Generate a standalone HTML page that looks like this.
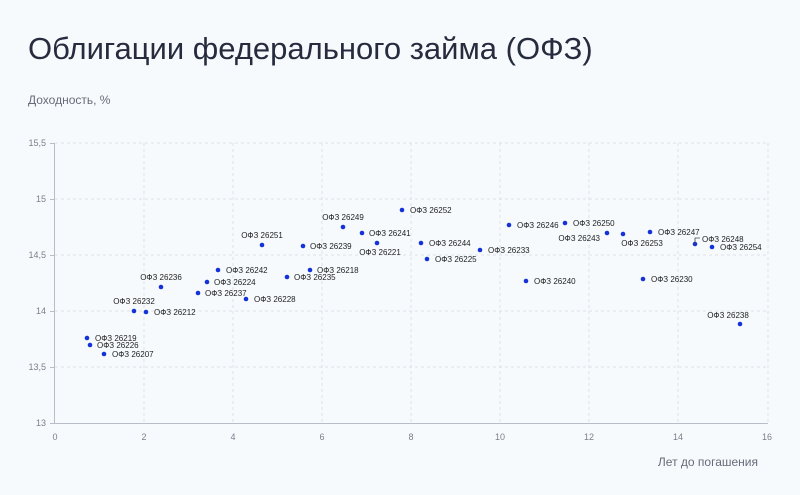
<!DOCTYPE html>
<html><head><meta charset="utf-8"><style>
body{margin:0;background:#f7fafd;}
svg{display:block}
text{font-family:"Liberation Sans","DejaVu Sans",sans-serif}
</style></head><body>
<svg width="800" height="495" viewBox="0 0 800 495" xmlns="http://www.w3.org/2000/svg">
<rect width="800" height="495" fill="#f7fafd"/>
<text x="28" y="59" font-size="31" fill="#262b3e">Облигации федерального займа (ОФЗ)</text>
<text x="28" y="104" font-size="12" fill="#666b78">Доходность, %</text>
<text x="758" y="466" font-size="12" fill="#666b78" text-anchor="end">Лет до погашения</text>
<g stroke="#dde1e8" stroke-dasharray="3,3" stroke-width="1">
<line x1="55" y1="143" x2="768" y2="143"/><line x1="55" y1="199" x2="768" y2="199"/><line x1="55" y1="255" x2="768" y2="255"/><line x1="55" y1="311" x2="768" y2="311"/><line x1="55" y1="367" x2="768" y2="367"/>
<line x1="144" y1="143" x2="144" y2="423"/><line x1="233" y1="143" x2="233" y2="423"/><line x1="322" y1="143" x2="322" y2="423"/><line x1="411" y1="143" x2="411" y2="423"/><line x1="500" y1="143" x2="500" y2="423"/><line x1="589" y1="143" x2="589" y2="423"/><line x1="678" y1="143" x2="678" y2="423"/><line x1="768" y1="143" x2="768" y2="423"/>
</g>
<g stroke="#b8bec8" stroke-width="1">
<line x1="54.5" y1="143" x2="54.5" y2="424"/><line x1="54" y1="423.5" x2="768" y2="423.5"/>
<line x1="50" y1="143.5" x2="54" y2="143.5"/><line x1="50" y1="199.5" x2="54" y2="199.5"/><line x1="50" y1="255.5" x2="54" y2="255.5"/><line x1="50" y1="311.5" x2="54" y2="311.5"/><line x1="50" y1="367.5" x2="54" y2="367.5"/><line x1="50" y1="423.5" x2="54" y2="423.5"/>
</g>
<g font-size="9" fill="#7a808c" text-anchor="end">
<text x="46" y="146">15,5</text><text x="46" y="202">15</text><text x="46" y="258">14,5</text><text x="46" y="314">14</text><text x="46" y="370">13,5</text><text x="46" y="426">13</text>
</g>
<g font-size="9" fill="#7a808c" text-anchor="middle">
<text x="55" y="440">0</text><text x="144" y="440">2</text><text x="233" y="440">4</text><text x="322" y="440">6</text><text x="411" y="440">8</text><text x="500" y="440">10</text><text x="589" y="440">12</text><text x="678" y="440">14</text><text x="767" y="440">16</text>
</g>
<g fill="#1432d8">
<circle cx="87" cy="338" r="2.3"/><circle cx="90" cy="345" r="2.3"/><circle cx="104" cy="354" r="2.3"/><circle cx="134" cy="311" r="2.3"/><circle cx="146" cy="312" r="2.3"/><circle cx="161" cy="287" r="2.3"/><circle cx="198" cy="293" r="2.3"/><circle cx="207" cy="282" r="2.3"/><circle cx="218" cy="270" r="2.3"/><circle cx="246" cy="299" r="2.3"/><circle cx="262" cy="245" r="2.3"/><circle cx="287" cy="277" r="2.3"/><circle cx="310" cy="270" r="2.3"/><circle cx="303" cy="246" r="2.3"/><circle cx="343" cy="227" r="2.3"/><circle cx="362" cy="233" r="2.3"/><circle cx="377" cy="243" r="2.3"/><circle cx="402" cy="210" r="2.3"/><circle cx="421" cy="243" r="2.3"/><circle cx="427" cy="259" r="2.3"/><circle cx="480" cy="250" r="2.3"/><circle cx="509" cy="225" r="2.3"/><circle cx="526" cy="281" r="2.3"/><circle cx="565" cy="223" r="2.3"/><circle cx="607" cy="233" r="2.3"/><circle cx="623" cy="234" r="2.3"/><circle cx="650" cy="232" r="2.3"/><circle cx="643" cy="279" r="2.3"/><circle cx="695" cy="244" r="2.3"/><circle cx="712" cy="247" r="2.3"/><circle cx="740" cy="324" r="2.3"/>
</g>
<path d="M695 244 V238 H700" stroke="#444" fill="none" stroke-width="0.8"/>
<g font-size="8" fill="#222">
<text x="95" y="341">ОФЗ 26219</text>
<text x="97" y="348">ОФЗ 26226</text>
<text x="112" y="357">ОФЗ 26207</text>
<text x="134" y="304" text-anchor="middle">ОФЗ 26232</text>
<text x="154" y="315">ОФЗ 26212</text>
<text x="161" y="280" text-anchor="middle">ОФЗ 26236</text>
<text x="205" y="296">ОФЗ 26237</text>
<text x="214" y="285">ОФЗ 26224</text>
<text x="226" y="273">ОФЗ 26242</text>
<text x="254" y="302">ОФЗ 26228</text>
<text x="262" y="238" text-anchor="middle">ОФЗ 26251</text>
<text x="294" y="280">ОФЗ 26235</text>
<text x="317" y="273">ОФЗ 26218</text>
<text x="310" y="249">ОФЗ 26239</text>
<text x="343" y="220" text-anchor="middle">ОФЗ 26249</text>
<text x="369" y="236">ОФЗ 26241</text>
<text x="380" y="255" text-anchor="middle">ОФЗ 26221</text>
<text x="410" y="213">ОФЗ 26252</text>
<text x="429" y="246">ОФЗ 26244</text>
<text x="435" y="262">ОФЗ 26225</text>
<text x="488" y="253">ОФЗ 26233</text>
<text x="517" y="228">ОФЗ 26246</text>
<text x="534" y="284">ОФЗ 26240</text>
<text x="573" y="226">ОФЗ 26250</text>
<text x="600" y="241" text-anchor="end">ОФЗ 26243</text>
<text x="642" y="246" text-anchor="middle">ОФЗ 26253</text>
<text x="658" y="235">ОФЗ 26247</text>
<text x="651" y="282">ОФЗ 26230</text>
<text x="702" y="242">ОФЗ 26248</text>
<text x="720" y="250">ОФЗ 26254</text>
<text x="728" y="318" text-anchor="middle">ОФЗ 26238</text>
</g>
</svg>
</body></html>
